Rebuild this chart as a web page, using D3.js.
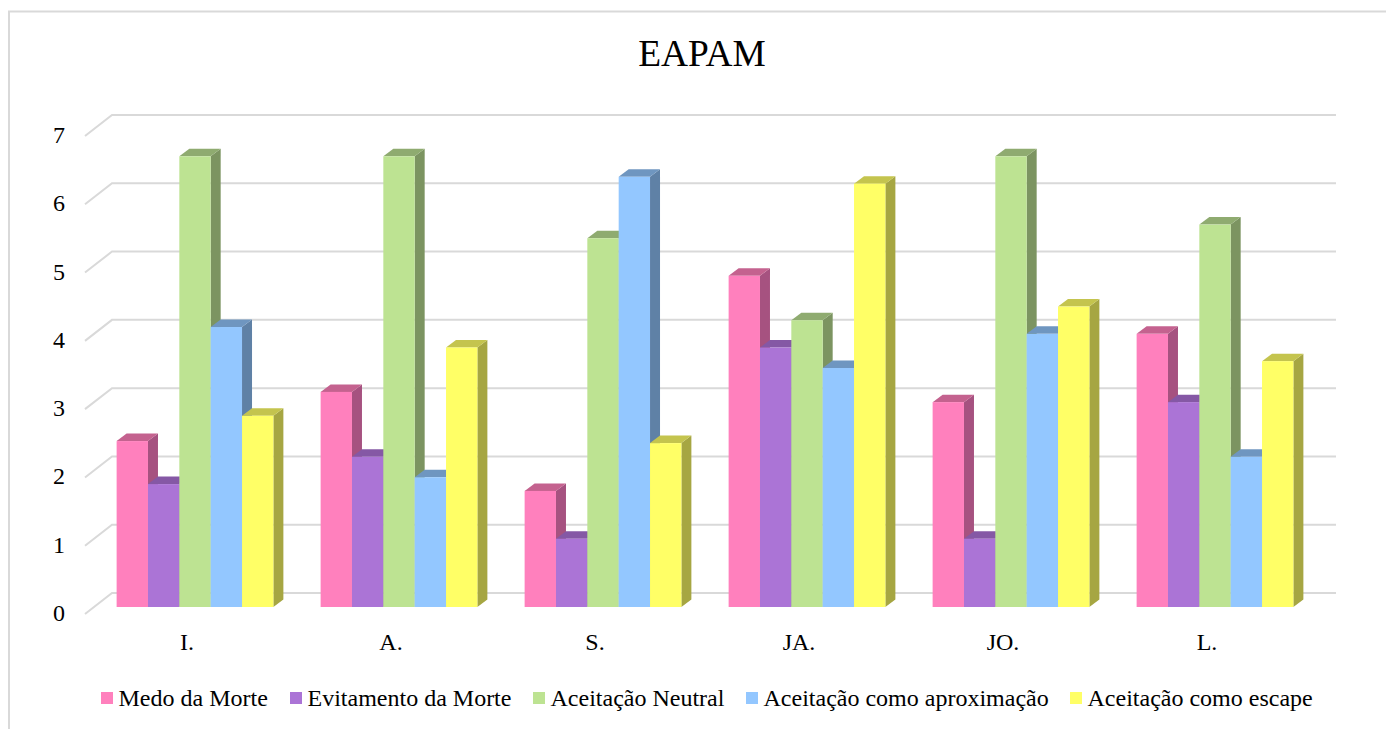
<!DOCTYPE html>
<html>
<head>
<meta charset="utf-8">
<script src="https://cdn.jsdelivr.net/npm/d3@7"></script>
<style>
  html, body { margin: 0; padding: 0; background: #fff; }
  svg { display: block; font-family: "Liberation Serif", serif; fill: #000; }
</style>
</head>
<body>
<svg width="1386" height="729"></svg>
<script>
const categories = ["I.", "A.", "S.", "JA.", "JO.", "L."];
const seriesNames = ["Medo da Morte", "Evitamento da Morte", "Aceitação Neutral", "Aceitação como aproximação", "Aceitação como escape"];
const medo = [2.43, 3.15, 1.7, 4.85, 3, 4];
const evitamento = [1.8, 2.2, 1, 3.8, 1, 3];
const neutral = [6.6, 6.6, 5.4, 4.2, 6.6, 5.6];
const aproximacao = [4.1, 1.9, 6.3, 3.5, 4, 2.2];
const escape = [2.8, 3.8, 2.4, 6.2, 4.4, 3.6];
const yTicks = [0, 1, 2, 3, 4, 5, 6, 7];

const series = [medo, evitamento, neutral, aproximacao, escape];
const frontColors = ["#ff80bd", "#ab74d6", "#bde392", "#93c7ff", "#ffff66"];
const sideColors = ["#a65280", "#6f4b8b", "#7c9461", "#5f81a6", "#a6a642"];
const topColors = ["#c4628f", "#8558a5", "#8fab70", "#6f96c0", "#c4c44e"];

const svg = d3.select("svg");

// chart frame
svg.append("rect")
    .attr("x", 9).attr("y", 11.5)
    .attr("width", 1390).attr("height", 730)
    .attr("fill", "none").attr("stroke", "#d9d9d9").attr("stroke-width", 2);

svg.append("text")
    .attr("x", 702).attr("y", 66)
    .attr("text-anchor", "middle")
    .attr("font-size", 37.4)
    .text("EAPAM");

const y = d3.scaleLinear().domain([0, 7]).range([607, 129]);
const x0 = d3.scaleBand().domain(categories).range([85, 1309]);
const barW = 31.35;
const x1 = d3.scaleBand().domain(d3.range(5)).range([0, barW * 5]);
const groupPad = (x0.bandwidth() - barW * 5) / 2;
const barShift = 8;

// depth of the floor / back wall and of the bars
const wallDx = 27, wallDy = -21;
const barDx = 10, barDy = -7.5;
const floorOffset = 7;

const grid = svg.append("g");
yTicks.forEach(t => {
    const yf = y(t) + floorOffset;
    grid.append("polyline")
        .attr("points", [[85, yf], [85 + wallDx, yf + wallDy], [1336, yf + wallDy]].join(" "))
        .attr("fill", "none")
        .attr("stroke", "#d9d9d9")
        .attr("stroke-width", 2);
});

svg.append("g").selectAll("text")
    .data(yTicks)
    .join("text")
    .attr("x", 59)
    .attr("y", d => y(d) + 14)
    .attr("text-anchor", "middle")
    .attr("font-size", 24)
    .text(d => d);

const bars = svg.append("g");
categories.forEach((c, i) => {
    series.forEach((values, s) => {
        const xa = x0(c) + groupPad + x1(s) + barShift;
        const xb = xa + barW;
        const yt = y(values[i]);
        const yb = y(0);
        const g = bars.append("g");
        g.append("polygon")
            .attr("points", [[xb, yt], [xb + barDx, yt + barDy], [xb + barDx, yb + barDy], [xb, yb]].join(" "))
            .attr("fill", sideColors[s]);
        g.append("polygon")
            .attr("points", [[xa, yt], [xa + barDx, yt + barDy], [xb + barDx, yt + barDy], [xb, yt]].join(" "))
            .attr("fill", topColors[s]);
        g.append("rect")
            .attr("x", xa).attr("y", yt)
            .attr("width", barW).attr("height", yb - yt)
            .attr("fill", frontColors[s]);
    });
});

svg.append("g").selectAll("text")
    .data(categories)
    .join("text")
    .attr("x", d => x0(d) + x0.bandwidth() / 2)
    .attr("y", 650)
    .attr("text-anchor", "middle")
    .attr("font-size", 24)
    .text(d => d);

// legend
const legendX = [101, 290, 533, 746, 1070];
const legend = svg.append("g").selectAll("g")
    .data(seriesNames)
    .join("g")
    .attr("transform", (d, i) => `translate(${legendX[i]},692)`);
legend.append("rect")
    .attr("width", 12).attr("height", 12)
    .attr("fill", (d, i) => frontColors[i]);
legend.append("text")
    .attr("x", 17.5).attr("y", 13.5)
    .attr("font-size", 24)
    .text(d => d);
</script>
</body>
</html>
